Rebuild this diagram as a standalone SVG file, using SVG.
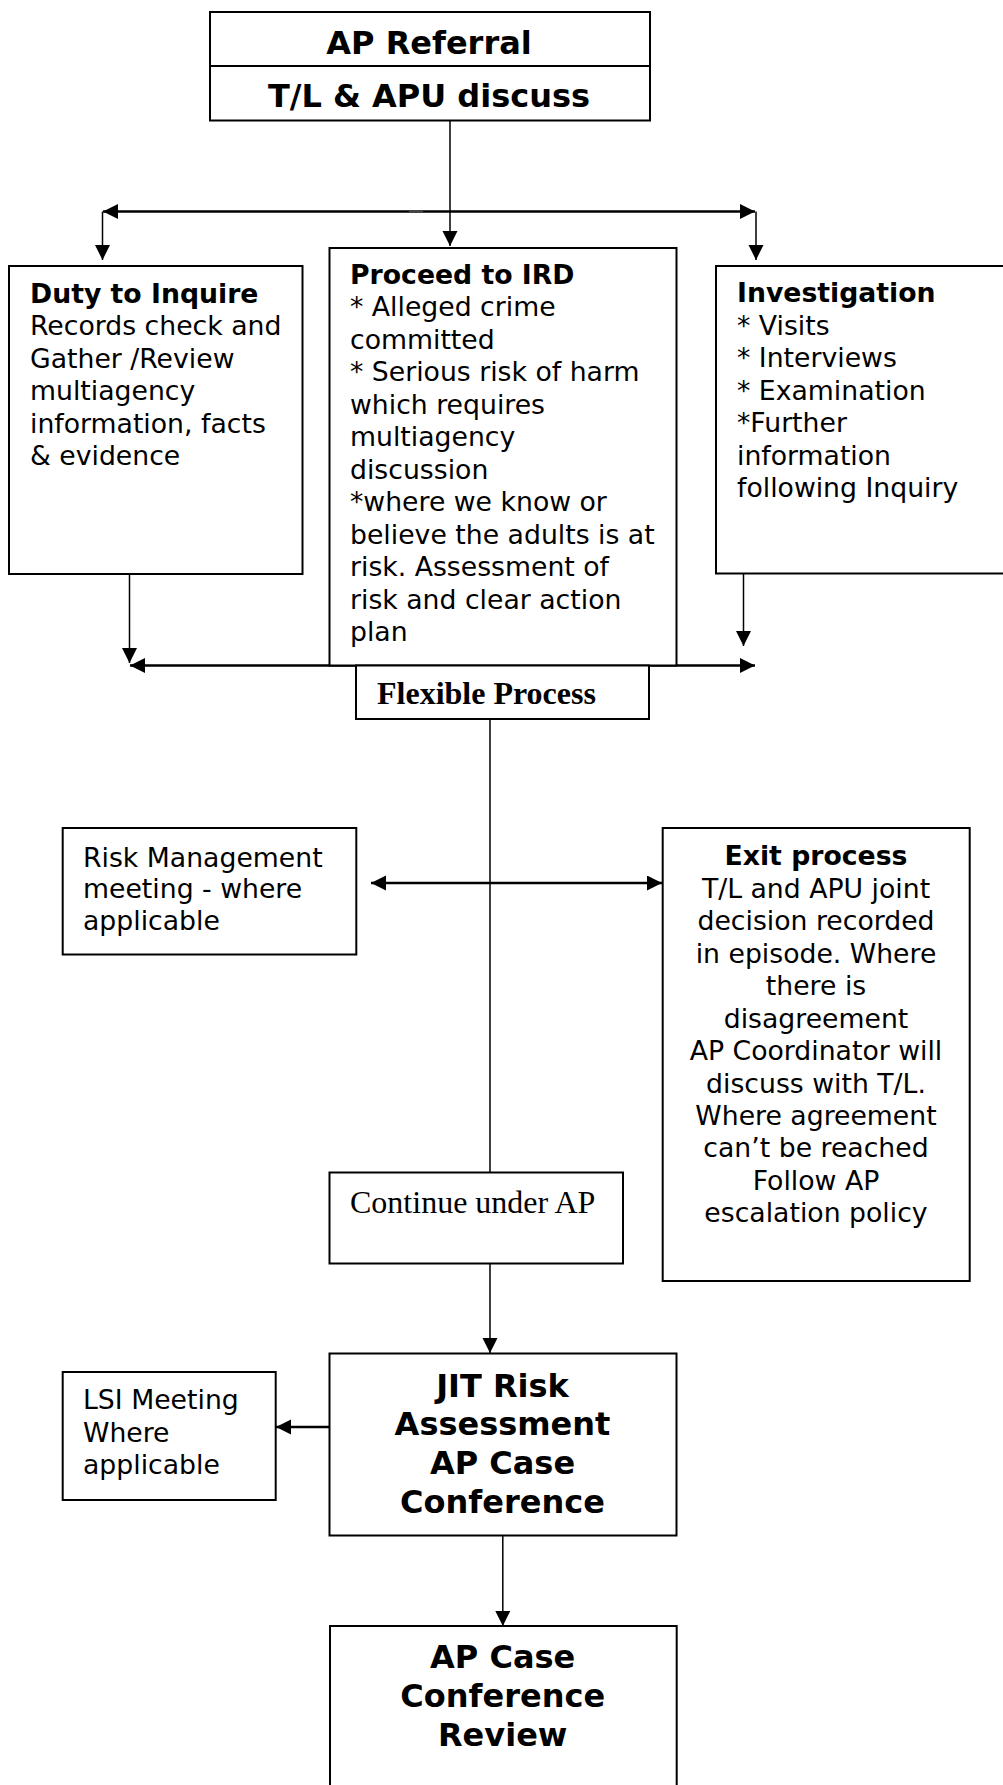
<svg xmlns="http://www.w3.org/2000/svg" width="1003" height="1785" viewBox="0 0 1003 1785">
<style>
.bx{fill:#fff;stroke:#000;stroke-width:2}
.ln{fill:none;stroke:#000;stroke-width:1.5}
.bus{fill:none;stroke:#000;stroke-width:2.5}
.t{font-family:"DejaVu Sans",Verdana,sans-serif;font-size:26.7px;fill:#000}
.b{font-weight:bold}
.big{font-family:"DejaVu Sans",Verdana,sans-serif;font-size:32px;font-weight:bold;fill:#000;text-anchor:middle}
.s{font-family:"Liberation Serif","Times New Roman",serif;font-size:32px;fill:#000}
.m{text-anchor:middle}
</style>
<defs>
<marker id="ah" markerUnits="userSpaceOnUse" markerWidth="16" markerHeight="16" refX="15" refY="7.5" orient="auto-start-reverse">
<path d="M0,0 L15,7.5 L0,15 Z" fill="#000"/>
</marker>
</defs>
<g id="connectors">
<path class="ln" d="M450,120.5 V246" marker-end="url(#ah)"/>
<path class="bus" d="M103,211.5 H755" marker-start="url(#ah)" marker-end="url(#ah)"/>
<path d="M409,211.5 H423" stroke="#444" stroke-width="3"/>
<path class="ln" d="M102.5,211.5 V260" marker-end="url(#ah)"/>
<path class="ln" d="M756,211.5 V260" marker-end="url(#ah)"/>
<path class="ln" d="M129.5,574 V663" marker-end="url(#ah)"/>
<path class="ln" d="M743.5,573.5 V646" marker-end="url(#ah)"/>
<path class="bus" d="M130,665.5 H755" marker-start="url(#ah)" marker-end="url(#ah)"/>
<path class="ln" d="M490,719 V1172.5"/>
<path class="bus" d="M371,883 H662" marker-start="url(#ah)" marker-end="url(#ah)"/>
<path class="ln" d="M490,1263.5 V1353" marker-end="url(#ah)"/>
<path class="bus" d="M329.5,1427 H276" marker-end="url(#ah)"/>
<path class="ln" d="M502.8,1535.5 V1626" marker-end="url(#ah)"/>
</g>
<g id="node-referral">
<rect class="bx" x="210" y="12" width="440" height="108.5"/>
<line x1="210" y1="66" x2="650" y2="66" stroke="#000" stroke-width="2"/>
<text class="big" x="429" y="54">AP Referral</text>
<text class="big" x="429" y="107">T/L &amp; APU discuss</text>
</g>
<g id="node-duty">
<rect class="bx" x="9" y="266" width="293.5" height="308"/>
<text class="t" x="30"><tspan class="b" x="30" y="302.5">Duty to Inquire</tspan><tspan x="30" y="335">Records check and</tspan><tspan x="30" y="367.5">Gather /Review</tspan><tspan x="30" y="400">multiagency</tspan><tspan x="30" y="432.5">information, facts</tspan><tspan x="30" y="465">&amp; evidence</tspan></text>
</g>
<g id="node-ird">
<rect class="bx" x="329.5" y="248" width="347" height="417.5"/>
<text class="t" x="350"><tspan class="b" x="350" y="283.5">Proceed to IRD</tspan><tspan x="350" y="316">* Alleged crime</tspan><tspan x="350" y="348.5">committed</tspan><tspan x="350" y="381">* Serious risk of harm</tspan><tspan x="350" y="413.5">which requires</tspan><tspan x="350" y="446">multiagency</tspan><tspan x="350" y="478.5">discussion</tspan><tspan x="350" y="511">*where we know or</tspan><tspan x="350" y="543.5">believe the adults is at</tspan><tspan x="350" y="576">risk. Assessment of</tspan><tspan x="350" y="608.5">risk and clear action</tspan><tspan x="350" y="641">plan</tspan></text>
</g>
<g id="node-investigation">
<rect class="bx" x="716" y="266" width="300" height="307.5"/>
<text class="t" x="737"><tspan class="b" x="737" y="302">Investigation</tspan><tspan x="737" y="334.5">* Visits</tspan><tspan x="737" y="367">* Interviews</tspan><tspan x="737" y="399.5">* Examination</tspan><tspan x="737" y="432">*Further</tspan><tspan x="737" y="464.5">information</tspan><tspan x="737" y="497">following Inquiry</tspan></text>
</g>
<g id="node-flexible">
<rect class="bx" x="356" y="665.5" width="293" height="53.5"/>
<text class="s b" x="377" y="704">Flexible Process</text>
</g>
<g id="node-risk">
<rect class="bx" x="62.7" y="828" width="293.6" height="126.5"/>
<text class="t" x="83"><tspan x="83" y="866.5">Risk Management</tspan><tspan x="83" y="898">meeting - where</tspan><tspan x="83" y="930">applicable</tspan></text>
</g>
<g id="node-exit">
<rect class="bx" x="662.7" y="828" width="307" height="453"/>
<text class="t m"><tspan class="b" x="816" y="865.3">Exit process</tspan><tspan x="816" y="897.8">T/L and APU joint</tspan><tspan x="816" y="930.2">decision recorded</tspan><tspan x="816" y="962.7">in episode. Where</tspan><tspan x="816" y="995.1">there is</tspan><tspan x="816" y="1027.6">disagreement</tspan><tspan x="816" y="1060">AP Coordinator will</tspan><tspan x="816" y="1092.5">discuss with T/L.</tspan><tspan x="816" y="1125">Where agreement</tspan><tspan x="816" y="1157.4">can’t be reached</tspan><tspan x="816" y="1189.9">Follow AP</tspan><tspan x="816" y="1222.4">escalation policy</tspan></text>
</g>
<g id="node-continue">
<rect class="bx" x="329.5" y="1172.5" width="293.5" height="91"/>
<text class="s" x="350" y="1213">Continue under AP</text>
</g>
<g id="node-jit">
<rect class="bx" x="329.5" y="1353.5" width="347" height="182"/>
<text class="big"><tspan x="502.5" y="1396.7">JIT Risk</tspan><tspan x="502.5" y="1435.4">Assessment</tspan><tspan x="502.5" y="1474">AP Case</tspan><tspan x="502.5" y="1512.7">Conference</tspan></text>
</g>
<g id="node-lsi">
<rect class="bx" x="62.7" y="1372" width="213" height="128"/>
<text class="t"><tspan x="83" y="1409.3">LSI Meeting</tspan><tspan x="83" y="1441.7">Where</tspan><tspan x="83" y="1474">applicable</tspan></text>
</g>
<g id="node-review">
<rect class="bx" x="330" y="1626" width="346.7" height="200"/>
<text class="big"><tspan x="502.7" y="1668.3">AP Case</tspan><tspan x="502.7" y="1707">Conference</tspan><tspan x="502.7" y="1746">Review</tspan></text>
</g>
</svg>
